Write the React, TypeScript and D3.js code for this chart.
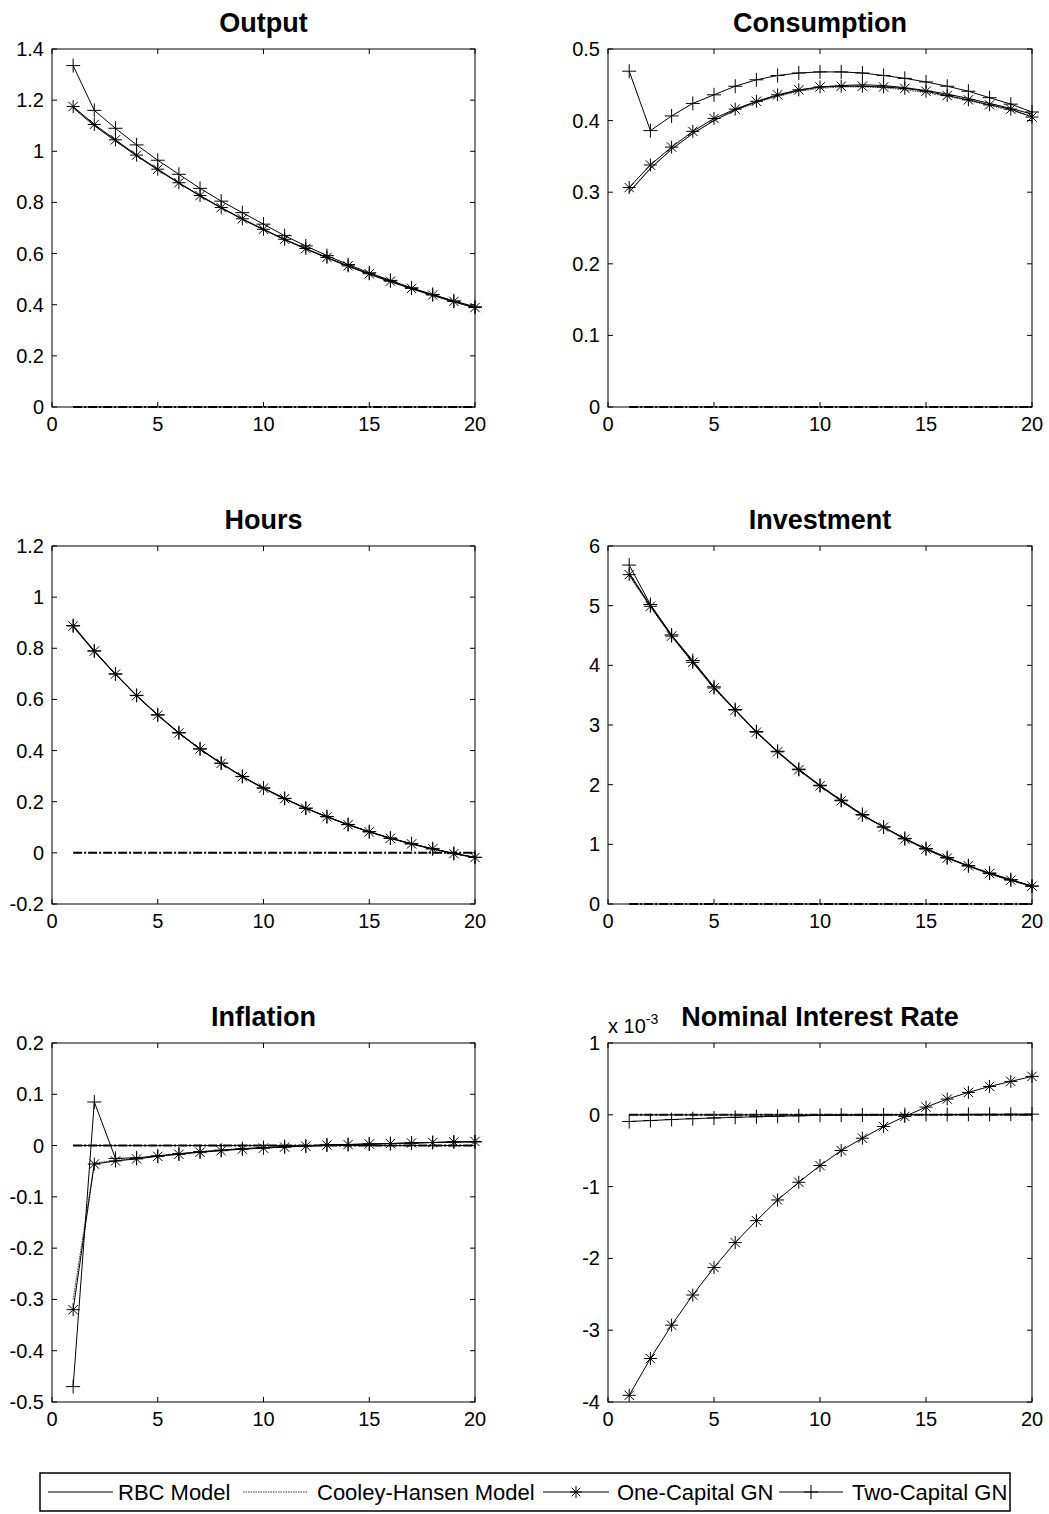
import React from 'react';
import * as d3 from 'd3';

// ---------- data ----------
const periods = [1, 2, 3, 4, 5, 6, 7, 8, 9, 10, 11, 12, 13, 14, 15, 16, 17, 18, 19, 20];
const xTicks = [0, 5, 10, 15, 20];

const outputRBC = [1.170, 1.100, 1.040, 0.982, 0.927, 0.875, 0.825, 0.778, 0.734, 0.693, 0.654, 0.618, 0.583, 0.550, 0.519, 0.490, 0.462, 0.436, 0.411, 0.388];
const outputCH = [1.172, 1.102, 1.042, 0.984, 0.928, 0.876, 0.826, 0.779, 0.735, 0.694, 0.655, 0.619, 0.584, 0.551, 0.520, 0.491, 0.463, 0.437, 0.412, 0.388];
const outputOne = [1.175, 1.105, 1.045, 0.985, 0.930, 0.877, 0.827, 0.780, 0.736, 0.695, 0.656, 0.620, 0.585, 0.552, 0.521, 0.492, 0.464, 0.438, 0.413, 0.389];
const outputTwo = [1.335, 1.160, 1.090, 1.025, 0.965, 0.910, 0.855, 0.805, 0.760, 0.715, 0.670, 0.630, 0.592, 0.557, 0.525, 0.495, 0.466, 0.440, 0.415, 0.392];
const outputTicks = [0, 0.2, 0.4, 0.6, 0.8, 1, 1.2, 1.4];

const consRBC = [0.300, 0.333, 0.360, 0.382, 0.400, 0.415, 0.426, 0.435, 0.442, 0.447, 0.449, 0.450, 0.449, 0.446, 0.442, 0.437, 0.431, 0.424, 0.417, 0.409];
const consCH = [0.301, 0.334, 0.360, 0.382, 0.400, 0.414, 0.425, 0.434, 0.441, 0.445, 0.447, 0.447, 0.446, 0.443, 0.439, 0.434, 0.428, 0.421, 0.414, 0.406];
const consOne = [0.3065, 0.338, 0.363, 0.385, 0.403, 0.416, 0.427, 0.436, 0.443, 0.447, 0.448, 0.448, 0.447, 0.445, 0.441, 0.435, 0.429, 0.422, 0.416, 0.405];
const consTwo = [0.469, 0.386, 0.4065, 0.424, 0.436, 0.448, 0.457, 0.463, 0.4665, 0.468, 0.468, 0.4665, 0.463, 0.459, 0.454, 0.448, 0.441, 0.432, 0.423, 0.412];
const consTicks = [0, 0.1, 0.2, 0.3, 0.4, 0.5];

const hoursRBC = [0.885, 0.787, 0.698, 0.614, 0.538, 0.468, 0.405, 0.349, 0.298, 0.252, 0.211, 0.174, 0.141, 0.110, 0.082, 0.057, 0.035, 0.015, -0.003, -0.018];
const hoursCH = [0.884, 0.786, 0.697, 0.613, 0.537, 0.467, 0.404, 0.348, 0.297, 0.251, 0.210, 0.173, 0.140, 0.109, 0.081, 0.056, 0.034, 0.014, -0.004, -0.019];
const hoursOne = [0.887, 0.789, 0.699, 0.615, 0.539, 0.469, 0.406, 0.350, 0.298, 0.253, 0.212, 0.174, 0.141, 0.110, 0.082, 0.057, 0.035, 0.016, -0.003, -0.018];
const hoursTwo = [0.889, 0.790, 0.700, 0.616, 0.540, 0.470, 0.407, 0.351, 0.299, 0.254, 0.213, 0.175, 0.142, 0.111, 0.083, 0.058, 0.036, 0.016, -0.002, -0.017];
const hoursTicks = [-0.2, 0, 0.2, 0.4, 0.6, 0.8, 1, 1.2];

const invRBC = [5.55, 5.00, 4.50, 4.06, 3.63, 3.25, 2.88, 2.55, 2.25, 1.98, 1.73, 1.49, 1.29, 1.09, 0.92, 0.77, 0.64, 0.51, 0.40, 0.30];
const invCH = [5.50, 4.98, 4.48, 4.04, 3.61, 3.24, 2.87, 2.54, 2.24, 1.97, 1.72, 1.48, 1.28, 1.08, 0.91, 0.76, 0.63, 0.50, 0.39, 0.29];
const invOne = [5.52, 4.99, 4.49, 4.05, 3.62, 3.25, 2.88, 2.55, 2.25, 1.98, 1.73, 1.49, 1.29, 1.09, 0.92, 0.77, 0.64, 0.51, 0.40, 0.30];
const invTwo = [5.68, 5.02, 4.51, 4.08, 3.64, 3.26, 2.89, 2.56, 2.26, 1.99, 1.74, 1.50, 1.29, 1.10, 0.93, 0.78, 0.64, 0.52, 0.41, 0.30];
const invTicks = [0, 1, 2, 3, 4, 5, 6];

const inflRBC = [0, 0, 0, 0, 0, 0, 0, 0, 0, 0, 0, 0, 0, 0, 0, 0, 0, 0, 0, 0];
const inflCH = [-0.300, -0.034, -0.029, -0.025, -0.020, -0.016, -0.012, -0.009, -0.006, -0.004, -0.002, 0.000, 0.001, 0.002, 0.003, 0.004, 0.005, 0.006, 0.007, 0.008];
const inflOne = [-0.320, -0.036, -0.030, -0.026, -0.021, -0.017, -0.013, -0.010, -0.007, -0.005, -0.003, -0.001, 0.001, 0.002, 0.003, 0.004, 0.005, 0.006, 0.007, 0.008];
const inflTwo = [-0.470, 0.085, -0.025, -0.024, -0.020, -0.016, -0.012, -0.009, -0.006, -0.004, -0.002, -0.001, 0.001, 0.002, 0.003, 0.004, 0.005, 0.006, 0.007, 0.007];
const inflTicks = [-0.5, -0.4, -0.3, -0.2, -0.1, 0, 0.1, 0.2];

// nominal interest rate, in units of 1e-3
const rateRBC = [0, 0, 0, 0, 0, 0, 0, 0, 0, 0, 0, 0, 0, 0, 0, 0, 0, 0, 0, 0];
const rateCH = [0, 0, 0, 0, 0, 0, 0, 0, 0, 0, 0, 0, 0, 0, 0, 0, 0, 0, 0, 0];
const rateOne = [-3.907, -3.395, -2.930, -2.510, -2.126, -1.780, -1.474, -1.186, -0.940, -0.707, -0.498, -0.326, -0.163, -0.023, 0.107, 0.219, 0.312, 0.395, 0.465, 0.535];
const rateTwo = [-0.093, -0.080, -0.066, -0.054, -0.044, -0.035, -0.027, -0.020, -0.014, -0.009, -0.005, -0.002, 0.000, 0.002, 0.004, 0.005, 0.006, 0.007, 0.008, 0.009];
const rateTicks = [-4, -3, -2, -1, 0, 1];

const zeroLine = [0, 0, 0, 0, 0, 0, 0, 0, 0, 0, 0, 0, 0, 0, 0, 0, 0, 0, 0, 0];

const seriesNames = ['RBC Model', 'Cooley-Hansen Model', 'One-Capital GN', 'Two-Capital GN'];
const panelTitles = ['Output', 'Consumption', 'Hours', 'Investment', 'Inflation', 'Nominal Interest Rate'];

// ---------- layout ----------
const W = 1049;
const H = 1514;
const cols = [{ x0: 52, x1: 475 }, { x0: 608, x1: 1032 }];
const rows = [{ y0: 49, y1: 407 }, { y0: 546, y1: 904 }, { y0: 1043, y1: 1402 }];
const FONT = "'Liberation Sans', Arial, Helvetica, sans-serif";

const panels = [
  { title: panelTitles[0], ticks: outputTicks, data: [outputRBC, outputCH, outputOne, outputTwo] },
  { title: panelTitles[1], ticks: consTicks, data: [consRBC, consCH, consOne, consTwo] },
  { title: panelTitles[2], ticks: hoursTicks, data: [hoursRBC, hoursCH, hoursOne, hoursTwo] },
  { title: panelTitles[3], ticks: invTicks, data: [invRBC, invCH, invOne, invTwo] },
  { title: panelTitles[4], ticks: inflTicks, data: [inflRBC, inflCH, inflOne, inflTwo] },
  { title: panelTitles[5], ticks: rateTicks, data: [rateRBC, rateCH, rateOne, rateTwo], exponent: true },
];

const fmt = (v: number) => String(+v.toFixed(3));

function Star({ x, y, r = 6.5 }: { x: number; y: number; r?: number }) {
  const d = r * 0.72;
  return (
    <path
      d={`M${x - r},${y}H${x + r}M${x},${y - r}V${y + r}M${x - d},${y - d}L${x + d},${y + d}M${x - d},${y + d}L${x + d},${y - d}`}
      stroke="#000"
      strokeWidth={1}
      fill="none"
    />
  );
}

function Plus({ x, y, r = 7 }: { x: number; y: number; r?: number }) {
  return (
    <path d={`M${x - r},${y}H${x + r}M${x},${y - r}V${y + r}`} stroke="#000" strokeWidth={1} fill="none" />
  );
}

function Panel({ idx }: { idx: number }) {
  const p = panels[idx];
  const c = cols[idx % 2];
  const r = rows[Math.floor(idx / 2)];
  const x = d3.scaleLinear().domain([0, 20]).range([c.x0, c.x1]);
  const ext = d3.extent(p.ticks) as [number, number];
  const y = d3.scaleLinear().domain(ext).range([r.y1, r.y0]);
  const line = d3
    .line<number>()
    .x((_, i) => x(periods[i]))
    .y((v) => y(v));
  const [rbc, ch, one, two] = p.data;
  const tl = 5;
  return (
    <g>
      <text
        x={(c.x0 + c.x1) / 2}
        y={r.y0 - 17}
        textAnchor="middle"
        fontFamily={FONT}
        fontWeight="bold"
        fontSize={27}
      >
        {p.title}
      </text>
      {p.exponent && (
        <text x={c.x0} y={r.y0 - 10} fontFamily={FONT} fontSize={20}>
          x 10
          <tspan dy={-9} fontSize={14}>-3</tspan>
        </text>
      )}
      {/* series */}
      <path d={line(zeroLine) || ''} stroke="#000" strokeWidth={2} fill="none" strokeDasharray="9,2,2,2" />
      <path d={line(rbc) || ''} stroke="#000" strokeWidth={1} fill="none" />
      <path d={line(ch) || ''} stroke="#333" strokeWidth={1} fill="none" strokeDasharray="1.5,1" />
      <path d={line(one) || ''} stroke="#000" strokeWidth={1} fill="none" />
      {one.map((v, i) => (
        <Star key={'s' + i} x={x(periods[i])} y={y(v)} />
      ))}
      <path d={line(two) || ''} stroke="#000" strokeWidth={1} fill="none" />
      {two.map((v, i) => (
        <Plus key={'p' + i} x={x(periods[i])} y={y(v)} />
      ))}
      {/* box */}
      <rect x={c.x0} y={r.y0} width={c.x1 - c.x0} height={r.y1 - r.y0} fill="none" stroke="#000" strokeWidth={1} />
      {/* x ticks */}
      {xTicks.map((t) => (
        <g key={'x' + t}>
          <line x1={x(t)} x2={x(t)} y1={r.y1} y2={r.y1 - tl} stroke="#000" />
          <line x1={x(t)} x2={x(t)} y1={r.y0} y2={r.y0 + tl} stroke="#000" />
          <text x={x(t)} y={r.y1 + 24} textAnchor="middle" fontFamily={FONT} fontSize={20}>
            {t}
          </text>
        </g>
      ))}
      {/* y ticks */}
      {p.ticks.map((t) => (
        <g key={'y' + t}>
          <line x1={c.x0} x2={c.x0 + tl} y1={y(t)} y2={y(t)} stroke="#000" />
          <line x1={c.x1} x2={c.x1 - tl} y1={y(t)} y2={y(t)} stroke="#000" />
          <text x={c.x0 - 8} y={y(t) + 7} textAnchor="end" fontFamily={FONT} fontSize={20}>
            {fmt(t)}
          </text>
        </g>
      ))}
    </g>
  );
}

function Legend() {
  const top = 1473;
  const bot = 1511;
  const left = 40;
  const right = 1010;
  const cy = (top + bot) / 2;
  const items = [
    { x1: 48, x2: 113, tx: 118, style: 'solid' },
    { x1: 243, x2: 308, tx: 317, style: 'dotted' },
    { x1: 543, x2: 609, tx: 617, style: 'star' },
    { x1: 779, x2: 843, tx: 852, style: 'plus' },
  ];
  return (
    <g>
      <rect x={left} y={top} width={right - left} height={bot - top} fill="#fff" stroke="#000" strokeWidth={1.5} />
      {items.map((it, i) => (
        <g key={i}>
          <line
            x1={it.x1}
            x2={it.x2}
            y1={cy}
            y2={cy}
            stroke={it.style === 'dotted' ? '#333' : '#000'}
            strokeWidth={1}
            strokeDasharray={it.style === 'dotted' ? '1.5,1' : undefined}
          />
          {it.style === 'star' && <Star x={(it.x1 + it.x2) / 2} y={cy} r={6} />}
          {it.style === 'plus' && <Plus x={(it.x1 + it.x2) / 2} y={cy} r={7} />}
          <text x={it.tx} y={cy + 8} fontFamily={FONT} fontSize={22}>
            {seriesNames[i]}
          </text>
        </g>
      ))}
    </g>
  );
}

export default function App() {
  return (
    <div style={{ position: 'absolute', left: 0, top: 0, width: W, height: H, background: '#fff' }}>
      <svg width={W} height={H} viewBox={`0 0 ${W} ${H}`} style={{ display: 'block' }}>
        <rect width={W} height={H} fill="#fff" />
        {panels.map((_, i) => (
          <Panel key={i} idx={i} />
        ))}
        <Legend />
      </svg>
    </div>
  );
}
